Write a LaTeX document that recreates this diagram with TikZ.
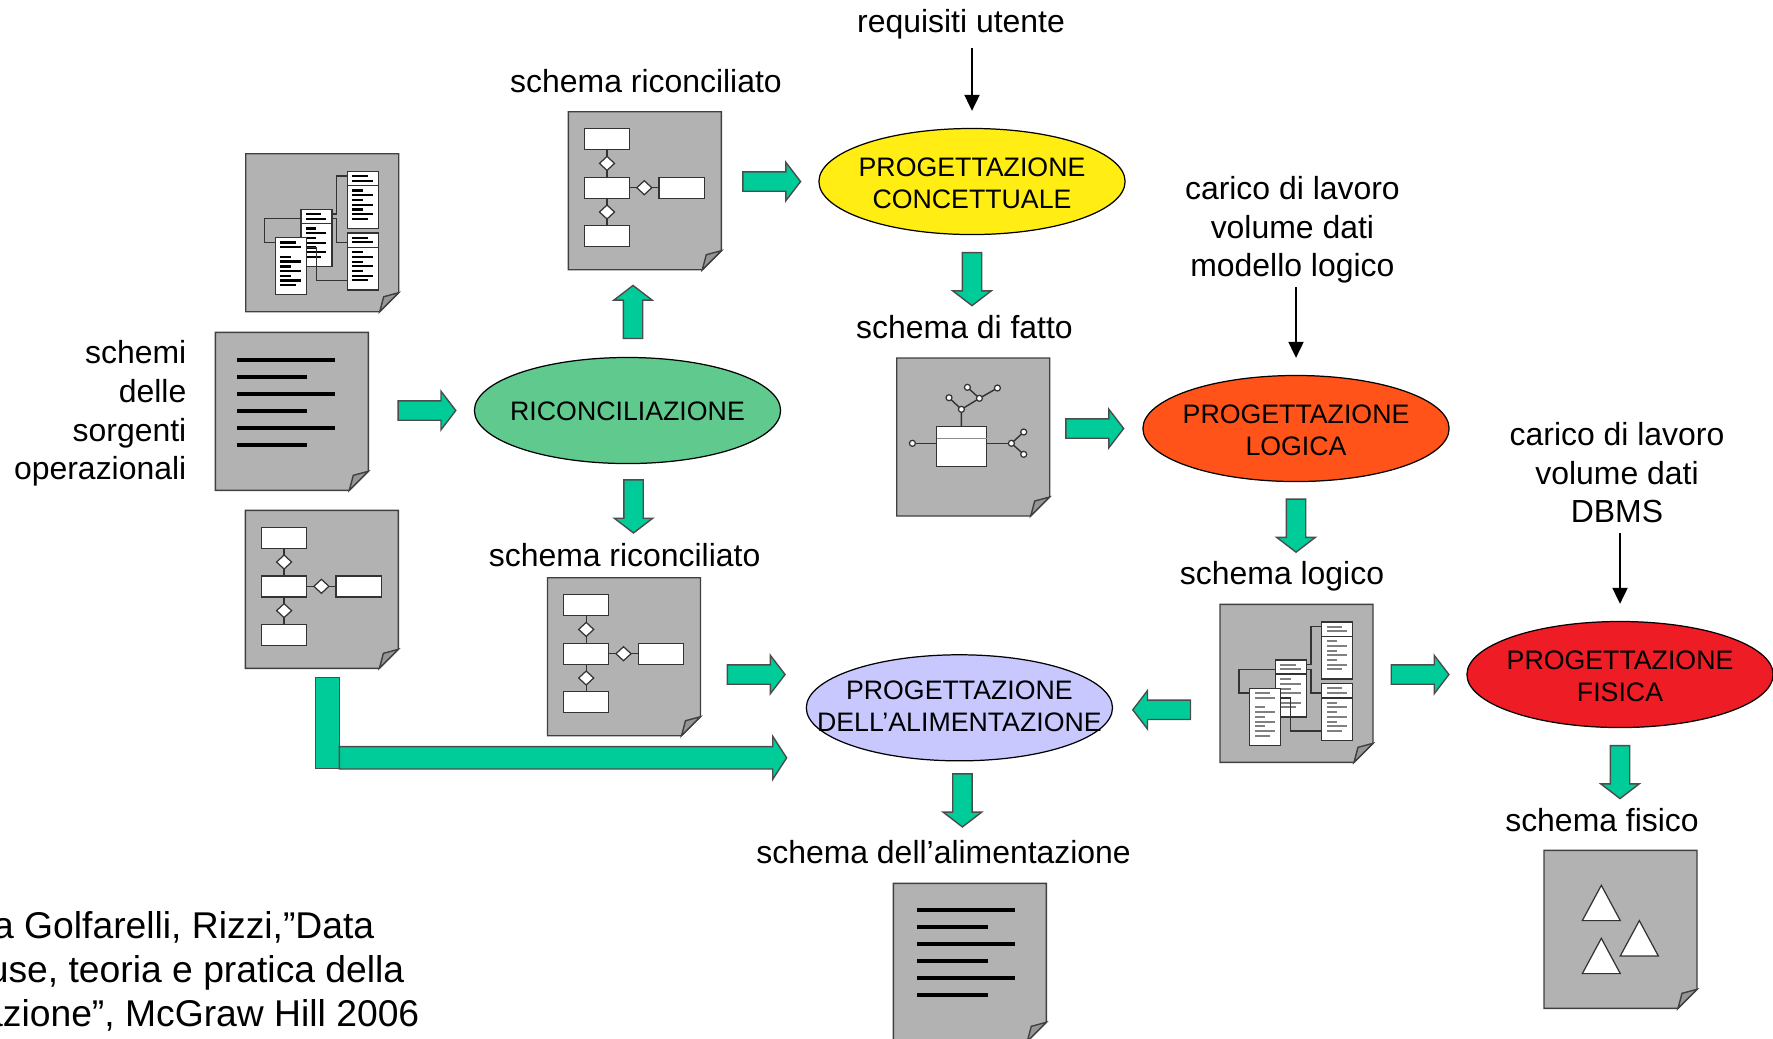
\documentclass[tikz,border=0pt]{standalone}
\usepackage{fontspec}
\setmainfont{Liberation Sans}
\usetikzlibrary{shapes.geometric,shapes.arrows,arrows.meta}
\definecolor{pagegray}{HTML}{B2B2B2}
\definecolor{foldgray}{HTML}{969696}
\definecolor{arrowgreen}{HTML}{00CC99}
\definecolor{ricgreen}{HTML}{60CA8E}
\definecolor{conyellow}{HTML}{FFED13}
\definecolor{logorange}{HTML}{FF5319}
\definecolor{fisred}{HTML}{EE1C25}
\definecolor{alilav}{HTML}{C8C8FF}
\tikzset{
	,labeltext/.style = {inner sep=0, align=center, font=\fontsize{9.08}{11}\selectfont}
	,reftext/.style = {inner sep=0, anchor=base east, font=\fontsize{10.6}{12.8}\selectfont}
	,procnode/.style 2 args = {ellipse, draw=black, line width=.35pt, inner sep=0, minimum width=3.06cm, minimum height=1.06cm,
		label={[inner sep=0, yshift=#2, align=center, font=\fontsize{7.6}{9}\selectfont]center:#1}}
	,thinarrow/.style = {-{Triangle[length=.16cm,width=.15cm]}, line width=.55pt, shorten >=.17cm, shorten <=.09cm}
	,blockar/.style = {single arrow, draw=black!70, fill=arrowgreen, line width=.4pt, sloped, allow upside down, anchor=tail, inner xsep=0, inner ysep=.09cm,
		minimum height=.577cm, minimum width=.37cm, single arrow tip angle=105, single arrow head extend=.095cm, outer sep=0}
	,blockstem/.style = {rectangle, draw=black!70, fill=arrowgreen, line width=.4pt, minimum width=.236cm, minimum height=.91cm, outer sep=0, inner sep=0}
	,pageline/.style = {draw=black!75, line width=.4pt, fill=pagegray}
	,boxline/.style = {draw=black!80, line width=.35pt, fill=white}
	,wireline/.style = {draw=black!80, line width=.4pt}
	,pics/docpage/.style = {code={
		\draw[pageline] (0,0) -- (153,0) -- (153,139) -- (134,158) -- (0,158) -- cycle;
		\draw[pageline, fill=foldgray] (134,158) -- (138,143) -- (153,139) -- cycle;
		\coordinate (-o) at (0,0);
		\coordinate (-e) at (153,79);
		\coordinate (-w) at (0,79);
		\coordinate (-n) at (76.5,0);
		\coordinate (-s) at (76.5,158);
	}}
	,pics/linesicon/.style = {code={
		\foreach \y/\w in {27.7/98, 44.7/70.7, 61.7/98, 78.7/70.7, 95.7/98, 112.7/70.7}
			\fill[black] (21.3,\y-2) rectangle (21.3+\w,\y+2);
	}}
	,pics/ericon/.style = {code={
		\draw[wireline] (38.7,38) -- (38.7,114);
		\draw[wireline] (61.3,76) -- (90.7,76);
		\foreach \x/\y in {16/17, 16/65.7, 16/114, 90.7/65.7}
			\draw[boxline] (\x,\y) rectangle (\x+45.3,\y+21);
		\foreach \x/\y in {38.7/51.7, 38.7/100.3, 76/76}
			\draw[boxline] (\x,\y-7) -- (\x+7.5,\y) -- (\x,\y+7) -- (\x-7.5,\y) -- cycle;
	}}
	,pics/staricon/.style = {code={
		\draw[wireline] (15.7,85.3) -- (114.7,85.3);
		\draw[wireline] (127,74) -- (114.7,85.3) -- (127,96.3);
		\draw[wireline] (64.7,68.7) -- (64.7,51.3) -- (82.7,40.3) -- (70.7,29.3);
		\draw[wireline] (64.7,51.3) -- (52.3,39.7);
		\draw[wireline] (82.7,40.3) -- (100.7,30);
		\draw[boxline] (40,68.7) rectangle (90,108.7);
		\draw[wireline, draw=black!45] (40,80.3) -- (90,80.3);
		\foreach \x/\y in {15.7/85.3, 114.7/85.3, 127/74, 127/96.3, 64.7/51.3, 52.3/39.7, 82.7/40.3, 70.7/29.3, 100.7/30}
			\draw[boxline] (\x,\y) circle (.03cm);
	}}
	,pics/trianglesicon/.style = {code={
		\foreach \x/\y in {57.3/35, 95.3/70.3, 57.3/88}
			\draw[boxline] (\x,\y) -- (\x+19,\y+35.3) -- (\x-19,\y+35.3) -- cycle;
	}}
	,pics/tablebox/.style = {code={
		\draw[boxline] (0,0) rectangle (31,57);
		\foreach \y/\w in {4.7/15.3, 9.3/20.3, 19/10.3, 23.7/20.3, 28.7/10.3, 33.3/20.3, 38/10.3, 42.7/20.3, 47.3/15.3}
			\fill[#1] (5,\y-1.1) rectangle (5+\w,\y+1.1);
	}}
	,pics/tablesicon/.style = {code={
		\draw[wireline] (55.3,65) -- (19,65) -- (19,88.7) -- (29.7,88.7);
		\draw[wireline] (86,60.3) -- (91,60.3) -- (91,22.3) -- (101.7,22.3);
		\draw[wireline] (86,65) -- (91,65) -- (91,88.7) -- (101.7,88.7);
		\pic at (101.7,17.7) {tablebox=#1};
		\draw[wireline] (101.7,32) -- (132.7,32);
		\pic at (55.3,55.7) {tablebox=#1};
		\draw[wireline] (55.3,69.7) -- (86,69.7);
		\pic at (101.7,79.3) {tablebox=#1};
		\draw[wireline] (101.7,93.7) -- (132.7,93.7);
		\pic at (29.7,84) {tablebox=#1};
		\draw[wireline] (60.7,93.7) -- (70.7,93.7) -- (70.7,126.7) -- (101.7,126.7);
	}}
}
\begin{document}
\begin{tikzpicture}[x=.01cm, y=-.01cm]
	\useasboundingbox (0,0) rectangle (1773,1038);

	\pic (docA) at (245.7,153.7) {docpage};
	\pic at (docA-o) {tablesicon=black};
	\pic (docB) at (215.3,332.3) {docpage};
	\pic at (docB-o) {linesicon};
	\pic (docC) at (245.4,510.3) {docpage};
	\pic at (docC-o) {ericon};
	\pic (docD) at (547.5,577.7) {docpage};
	\pic at (docD-o) {ericon};
	\pic (docE) at (568.3,111.7) {docpage};
	\pic at (docE-o) {ericon};
	\pic (docF) at (896.7,358) {docpage};
	\pic at (docF-o) {staricon};
	\pic (docG) at (1220,604.3) {docpage};
	\pic at (docG-o) {tablesicon=black!50};
	\pic (docH) at (893.3,883.3) {docpage};
	\pic at ([xshift=.027cm,yshift=.01cm]docH-o) {linesicon};
	\pic (docI) at (1544,850.3) {docpage};
	\pic at (docI-o) {trianglesicon};

	\node[procnode={RICONCILIAZIONE}{-.01cm}, fill=ricgreen] (ric) at (627.5,410.5) {};
	\node[procnode={PROGETTAZIONE\\CONCETTUALE}{-.02cm}, fill=conyellow] (pc) at (972,181.5) {};
	\node[procnode={PROGETTAZIONE\\LOGICA}{-.02cm}, fill=logorange] (pl) at (1296,428.5) {};
	\node[procnode={PROGETTAZIONE\\FISICA}{-.02cm}, fill=fisred] (pf) at (1620,674.5) {};
	\node[procnode={PROGETTAZIONE\\DELL’ALIMENTAZIONE}{.015cm}, fill=alilav] (pa) at (959.4,707.8) {};

	\node[labeltext, anchor=base] (req) at (961,32) {requisiti utente};
	\node[labeltext, anchor=base] (lblE) at (646,92) {schema riconciliato};
	\node[labeltext, anchor=base] (lblF) at (964.5,338.5) {schema di fatto};
	\node[labeltext, anchor=base] (lblD) at (624.6,566.7) {schema riconciliato};
	\node[labeltext, anchor=base] (lblG) at (1282,584) {schema logico};
	\node[labeltext, anchor=base] (lblI) at (1602,831) {schema fisico};
	\node[labeltext, anchor=base] (lblH) at (943.6,863) {schema dell’alimentazione};
	\node[labeltext] (carlog) at (1292.4,229.8) {carico di lavoro\\volume dati\\modello logico};
	\node[labeltext] (carfis) at (1617,472.8) {carico di lavoro\\volume dati\\DBMS};
	\node[labeltext, anchor=east, align=right] (lblsrc) at (187,413.5) {schemi\\delle\\sorgenti\\operazionali};

	\node[reftext] (refa) at (375,938.3) {a Golfarelli, Rizzi,”Data};
	\node[reftext] (refb) at (405,982.7) {use, teoria e pratica della};
	\node[reftext] (refc) at (420,1026.7) {azione”, McGraw Hill 2006};

	\draw[thinarrow] (req.south -| pc.north) -- (pc.north);
	\draw[thinarrow, shorten <=.03cm] (carlog.south -| pl.north) -- (pl.north);
	\draw[thinarrow] (carfis.south -| pf.north) -- (pf.north);

	\path (docB-e |- ric) -- node[blockar, pos=.282] (arrsrc) {} (ric.west);
	\path (docE-e |- pc) -- node[blockar, pos=.222] (arrcon) {} (pc.west);
	\path ([xshift=.055cm]ric.north) -- node[blockar, pos=.211, minimum height=.53cm] (arrup) {} ([xshift=.055cm]ric.north |- docE-s);
	\path ([xshift=.06cm]ric.south) -- node[blockar, pos=.139, minimum height=.53cm] (arrdown) {} ([xshift=.06cm]ric.south |- docD-n);
	\path (pc.south) -- node[blockar, pos=.142, minimum height=.53cm] (arrfat) {} (pc.south |- docF-n);
	\path (docF-e |- pl) -- node[blockar, pos=.175] (arrlog) {} (pl.west);
	\path (pl.south) -- node[blockar, pos=.139, minimum height=.53cm] (arrsl) {} (pl.south |- docG-n);
	\path (docD-e |- pf) -- node[blockar, pos=.255] (arrali) {} (pa.west |- pf);
	\path ([yshift=-.02cm]docG-w |- pa) -- node[blockar, pos=.276] (arrback) {} ([yshift=-.02cm]pa.east);
	\path (docG-e |- pf) -- node[blockar, pos=.195] (arrfis) {} (pf.west);
	\path (pf.south) -- node[blockar, pos=.1425, minimum height=.53cm] (arrsf) {} (pf.south |- docI-n);
	\path ([xshift=.03cm]pa.south) -- node[blockar, pos=.102, minimum height=.53cm] (arrsa) {} ([xshift=.03cm]pa.south |- docH-n);

	\coordinate (bigtip) at (786.4,757.8);
	\node[blockstem] (stem) at (327.5,722.8) {};
	\path (stem.east |- bigtip) -- node[blockar, pos=0, inner ysep=.105cm, minimum height=4.471cm, minimum width=.416cm, single arrow head extend=.103cm, single arrow tip angle=114] (arrbig) {} (bigtip);
\end{tikzpicture}
\end{document}
